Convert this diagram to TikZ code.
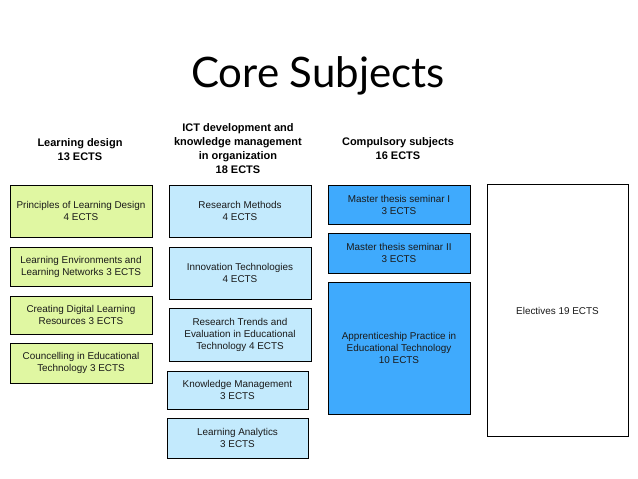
\documentclass[tikz,border=0pt]{standalone}
\usepackage{fontspec}
\setmainfont{Liberation Sans}
\newfontfamily\titlefont{Lato}
\definecolor{lgreen}{HTML}{E0F7A2}
\definecolor{lblue}{HTML}{C3EAFD}
\definecolor{dblue}{HTML}{3FAAFD}
\definecolor{txt}{HTML}{1A1A1A}
\begin{document}
\begin{tikzpicture}[x=1pt,y=-1pt,
  box/.style={draw=black,line width=0.9pt,rectangle,align=center,inner sep=0pt,
    font=\fontsize{9.9}{12}\selectfont,text=txt},
  gbox/.style={box,fill=lgreen,minimum width=142pt},
  bbox/.style={box,fill=lblue},
  dbox/.style={box,fill=dblue,minimum width=142pt},
  head/.style={align=center,font=\bfseries\fontsize{11}{14}\selectfont,inner sep=0pt}]
\useasboundingbox (0,0) rectangle (638,479);
\node[anchor=base,inner sep=0pt,font=\titlefont\fontsize{42}{46}\selectfont] (title) at (318,87) {Core Subjects};
\node[head] (h1) at (80,150) {Learning design\\13 ECTS};
\node[head] (h2) at (238,149) {ICT development and\\knowledge management\\in organization\\18 ECTS};
\node[head] (h3) at (398,149) {Compulsory subjects\\16 ECTS};
% column 1
\node[gbox,minimum height=52pt] (a1) at (81,211) {Principles of Learning Design\\4 ECTS};
\node[gbox,minimum height=39pt] (a2) at (81,266.5) {Learning Environments and\\Learning Networks 3 ECTS};
\node[gbox,minimum height=38pt] (a3) at (81,315) {Creating Digital Learning\\Resources 3 ECTS};
\node[gbox,minimum height=40pt] (a4) at (81,363) {Councelling in Educational\\Technology 3 ECTS};
% column 2
\node[bbox,minimum width=142pt,minimum height=52pt] (b1) at (240,211) {Research Methods\\4 ECTS};
\node[bbox,minimum width=142pt,minimum height=52pt] (b2) at (240,273) {Innovation Technologies\\4 ECTS};
\node[bbox,minimum width=142pt,minimum height=53pt] (b3) at (240,334.5) {Research Trends and\\Evaluation in Educational\\Technology 4 ECTS};
\node[bbox,minimum width=141pt,minimum height=38pt] (b4) at (237.5,390) {Knowledge Management\\3 ECTS};
\node[bbox,minimum width=141pt,minimum height=40pt] (b5) at (237.5,438) {Learning Analytics\\3 ECTS};
% column 3
\node[dbox,minimum height=39pt] (c1) at (399,204.5) {Master thesis seminar I\\3 ECTS};
\node[dbox,minimum height=40pt] (c2) at (399,253) {Master thesis seminar II\\3 ECTS};
\node[dbox,minimum height=132pt] (c3) at (399,348) {Apprenticeship Practice in\\Educational Technology\\10 ECTS};
% electives
\node[box,fill=white,minimum width=141pt,minimum height=252pt] (e) at (557.5,310) {};
\node[font=\fontsize{9.9}{12}\selectfont,text=txt,inner sep=0pt] (et) at (557.5,311) {Electives 19 ECTS};
\end{tikzpicture}
\end{document}
